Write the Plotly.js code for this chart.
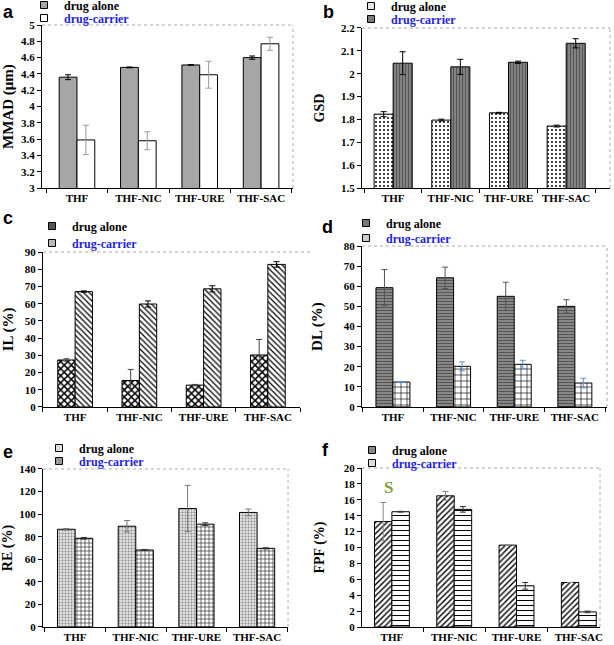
<!DOCTYPE html>
<html>
<head>
<meta charset="utf-8">
<script src="https://cdn.plot.ly/plotly-3.0.1.min.js"></script>
<style>
  html, body { margin: 0; padding: 0; background: #fff; }
  #chart { width: 614px; height: 645px; }
</style>
</head>
<body>
<div id="chart"></div>
<script>
const categories = ["THF", "THF-NIC", "THF-URE", "THF-SAC"];

// (a) MMAD
const mmadAlone = [4.36, 4.48, 4.51, 4.60];
const mmadAloneErr = [0.03, 0.005, 0.003, 0.02];
const mmadCarrier = [3.59, 3.58, 4.39, 4.77];
const mmadCarrierErr = [0.18, 0.11, 0.165, 0.08];

// (b) GSD
const gsdAlone = [1.823, 1.797, 1.829, 1.771];
const gsdAloneErr = [0.011, 0.004, 0.002, 0.004];
const gsdCarrier = [2.046, 2.030, 2.050, 2.133];
const gsdCarrierErr = [0.05, 0.033, 0.005, 0.02];

// (c) IL
const ilAlone = [27.3, 15.4, 12.7, 30.2];
const ilAloneErr = [0.7, 6.4, 0.4, 9.0];
const ilCarrier = [67.0, 59.8, 68.6, 82.8];
const ilCarrierErr = [0.4, 1.8, 1.8, 1.6];

// (d) DL
const dlAlone = [59.3, 64.2, 55.0, 50.0];
const dlAloneErr = [9.0, 5.3, 7.0, 3.3];
const dlCarrier = [12.4, 20.2, 21.2, 11.9];
const dlCarrierErr = [0.3, 2.2, 2.0, 2.4];

// (e) RE
const reAlone = [86.6, 89.3, 105.0, 101.5];
const reAloneErr = [0.7, 5.0, 20.5, 3.0];
const reCarrier = [78.6, 68.2, 91.1, 69.7];
const reCarrierErr = [0.7, 0.5, 1.2, 0.5];

// (f) FPF
const fpfAlone = [13.26, 16.5, 10.3, 5.6];
const fpfAloneErr = [2.4, 0.55, 0.0, 0.0];
const fpfCarrier = [14.5, 14.8, 5.18, 1.9];
const fpfCarrierErr = [0.05, 0.35, 0.42, 0.1];

const SERIF = "Liberation Serif, Times New Roman, serif";
const tickFont = { family: SERIF, size: 11, color: "#000", weight: "bold" };

// legend key for a panel: small square like the original, one legend box per row
const key = (n, name, color, legendId) => {
    const ax = n === 1 ? "" : String(n);
    return {
        type: "scatter", mode: "markers", name: name,
        x: [null], y: [null], xaxis: "x" + ax, yaxis: "y" + ax,
        legend: legendId, hoverinfo: "skip",
        marker: { symbol: "square", size: 7, color: color, line: { color: "#000", width: 1 } },
    };
};

// one pair of bars per panel; alone sits left of the category centre, carrier right
const pair = (n, w, alone, aloneErr, carrier, carrierErr, st) => {
    const ax = n === 1 ? "" : String(n);
    const mk = (name, y, err, offset, marker, errColor) => ({
        type: "bar",
        name: name,
        x: categories,
        y: y,
        width: w,
        offset: offset,
        xaxis: "x" + ax,
        yaxis: "y" + ax,
        showlegend: false,
        marker: Object.assign({ line: { color: "#000", width: 1 } }, marker),
        error_y: { type: "data", array: err, visible: true, color: errColor, thickness: 1, width: 3 },
        hoverinfo: "skip",
    });
    const l1 = n === 1 ? "legend" : "legend" + (2 * n - 1);
    const l2 = "legend" + (2 * n);
    return [
        mk("drug alone", alone, aloneErr, -w, st.alone, st.aloneErr),
        mk("drug-carrier", carrier, carrierErr, 0, st.carrier, st.carrierErr),
        key(n, "drug alone", st.keys[0], l1),
        key(n, "drug-carrier", st.keys[1], l2),
    ];
};

const pat = (shape, bg, fg, size, solidity) => ({
    color: bg,
    pattern: { shape: shape, bgcolor: bg, fgcolor: fg, size: size, solidity: solidity, fillmode: "replace" },
});

const data = [
    ...pair(1, 0.29, mmadAlone, mmadAloneErr, mmadCarrier, mmadCarrierErr, {
        alone: { color: "#a6a6a6" }, carrier: { color: "#ffffff" },
        aloneErr: "#000", carrierErr: "#999", keys: ["#a6a6a6", "#ffffff"],
    }),
    ...pair(2, 0.33, gsdAlone, gsdAloneErr, gsdCarrier, gsdCarrierErr, {
        alone: pat(".", "#ffffff", "#000", 4, 0.2), carrier: pat("|", "#8c8c8c", "#555", 3, 0.45),
        aloneErr: "#000", carrierErr: "#000", keys: ["#e6e6e6", "#7a7a7a"],
    }),
    ...pair(3, 0.27, ilAlone, ilAloneErr, ilCarrier, ilCarrierErr, {
        alone: pat("x", "#ffffff", "#000", 5, 0.5), carrier: pat("\\", "#ffffff", "#000", 4, 0.3),
        aloneErr: "#444", carrierErr: "#000", keys: ["#555555", "#bbbbbb"],
    }),
    ...pair(4, 0.28, dlAlone, dlAloneErr, dlCarrier, dlCarrierErr, {
        alone: pat("-", "#8c8c8c", "#555", 3, 0.4), carrier: pat("+", "#ffffff", "#000", 6, 0.2),
        aloneErr: "#555", carrierErr: "#5b8fd6", keys: ["#777777", "#cccccc"],
    }),
    ...pair(5, 0.29, reAlone, reAloneErr, reCarrier, reCarrierErr, {
        alone: pat(".", "#e2e2e2", "#888", 3, 0.3), carrier: pat("+", "#ffffff", "#000", 4, 0.25),
        aloneErr: "#777", carrierErr: "#333", keys: ["#dddddd", "#999999"],
    }),
    ...pair(6, 0.28, fpfAlone, fpfAloneErr, fpfCarrier, fpfCarrierErr, {
        alone: pat("/", "#ffffff", "#000", 4, 0.35), carrier: pat("-", "#ffffff", "#000", 5, 0.2),
        aloneErr: "#888", carrierErr: "#333", keys: ["#888888", "#dddddd"],
    }),
];

const xax = (domain, range, anchor) => ({
    domain: domain, range: range, anchor: anchor, type: "category",
    showline: true, linecolor: "#000", linewidth: 1,
    ticks: "outside", ticklen: 4, tickcolor: "#000", tickson: "boundaries",
    tickangle: 0, tickfont: tickFont, showgrid: false, zeroline: false, fixedrange: true,
});
const yax = (domain, range, dtick, title, size, anchor) => ({
    domain: domain, range: range, dtick: dtick, anchor: anchor,
    showline: true, linecolor: "#000", linewidth: 1,
    ticks: "outside", ticklen: 4, tickcolor: "#000",
    tickfont: tickFont, showgrid: false, zeroline: false, fixedrange: true,
    title: { text: title, font: { family: SERIF, size: size, color: "#000", weight: "bold" } },
});

const leg = (xpx, ypx, blue) => ({
    x: xpx / 614, y: 1 - ypx / 645, xanchor: "left", yanchor: "middle",
    bgcolor: "rgba(0,0,0,0)", borderwidth: 0,
    font: { family: SERIF, size: 12, color: blue ? "#1f1fe0" : "#000", weight: "bold" },
});
// text start x, row centre y (px)
const legendPos = [
    [60, 5], [60, 18],
    [387, 6], [387, 19],
    [68, 226], [68, 243],
    [382, 223], [382, 238],
    [75, 448], [75, 461],
    [388, 450], [388, 463],
];

const border = (n, topOnly) => {
    const ax = n === 1 ? "" : String(n);
    const s = { type: "line", xref: "x" + ax + " domain", yref: "y" + ax + " domain",
        line: { color: "#aaa", width: 1, dash: "dot" } };
    const out = [Object.assign({}, s, { x0: 0, x1: topOnly ? 1.04 : 1, y0: 1, y1: 1 })];
    if (!topOnly) out.push(Object.assign({}, s, { x0: 1, x1: 1, y0: 0, y1: 1 }));
    return out;
};

const letter = (t, xpx, ypx) => ({
    text: t, xref: "paper", yref: "paper", x: xpx / 614, y: 1 - ypx / 645,
    xanchor: "center", yanchor: "middle", showarrow: false,
    font: { family: "Liberation Sans, Arial, sans-serif", size: 18, color: "#000", weight: "bold" },
});

const layout = {
    width: 614,
    height: 645,
    margin: { l: 0, r: 0, t: 0, b: 0, autoexpand: false },
    paper_bgcolor: "#fff",
    plot_bgcolor: "#fff",
    barmode: "overlay",
    showlegend: true,
    xaxis: xax([0.0684, 0.4772], [-0.57, 3.52], "y"),
    yaxis: yax([0.7085, 0.9612], [3, 5], 0.2, "MMAD (μm)", 15, "x"),
    xaxis2: xax([0.5896, 0.9935], [-0.54, 3.76], "y2"),
    yaxis2: yax([0.7085, 0.9566], [1.5, 2.2], 0.1, "GSD", 14, "x2"),
    xaxis3: xax([0.0700, 0.4886], [-0.5, 3.5], "y3"),
    yaxis3: yax([0.3690, 0.6093], [0, 90], 10, "IL (%)", 15, "x3"),
    xaxis4: xax([0.5896, 0.9886], [-0.51, 3.53], "y4"),
    yaxis4: yax([0.3690, 0.6186], [0, 80], 10, "DL (%)", 15, "x4"),
    xaxis5: xax([0.0700, 0.4691], [-0.53, 3.51], "y5"),
    yaxis5: yax([0.0279, 0.2729], [0, 140], 20, "RE (%)", 14, "x5"),
    xaxis6: xax([0.5896, 0.9772], [-0.48, 3.34], "y6"),
    yaxis6: yax([0.0279, 0.2744], [0, 20], 2, "FPF (%)", 14, "x6"),
    shapes: [
        ...border(1), ...border(2), ...border(3, true),
        ...border(4), ...border(5), ...border(6),
    ],
    annotations: [
        letter("a", 8, 12), letter("b", 328, 12), letter("c", 8, 218),
        letter("d", 327, 227), letter("e", 8, 452), letter("f", 325, 450),
        {
            text: "S", xref: "x6", yref: "y6", x: "THF", y: 17.5, xshift: -3,
            showarrow: false,
            font: { family: SERIF, size: 17, color: "#7f9a3c", weight: "bold" },
        },
    ],
};

legendPos.forEach((p, i) => {
    const k = i === 0 ? "legend" : "legend" + (i + 1);
    layout[k] = leg(p[0] - 36, p[1], i % 2 === 1);
});

Plotly.newPlot("chart", data, layout, { displayModeBar: false, staticPlot: true });
</script>
</body>
</html>
